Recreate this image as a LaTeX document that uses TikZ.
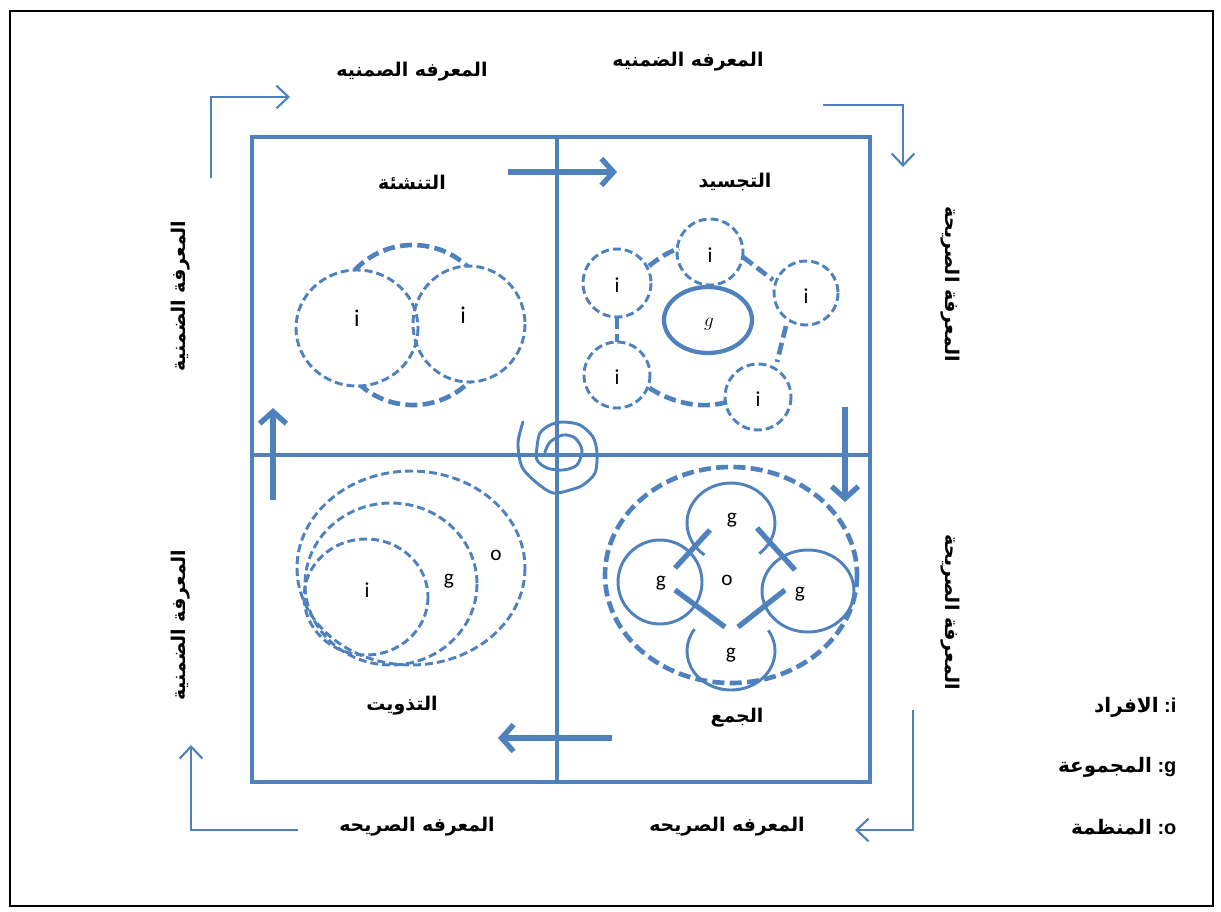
\documentclass[tikz,border=0pt]{standalone}
\usepackage{fontspec}
\setmainfont{Liberation Sans}
\newfontfamily\arabicfont[Script=Arabic]{DejaVu Sans}
\newfontfamily\calfont{Carlito}
\TeXXeTstate=1
\usetikzlibrary{arrows.meta}
\definecolor{bl}{HTML}{4F81BD}
\tikzset{
 sqframe/.style={draw=bl, line width=3pt},
 cornerarrow/.style={draw=bl, line width=1.6pt, -{Straight Barb[length=9pt,width=17pt]}},
 bigarrow/.style={draw=bl, line width=4pt, -{Straight Barb[length=9pt,width=20pt]}},
 smalldash/.style={draw=bl, line width=2.2pt, dash pattern=on 6pt off 3pt},
 bigdash/.style={draw=bl, line width=3.5pt, dash pattern=on 9pt off 4pt},
 solidc/.style={draw=bl, line width=2.2pt},
 thickc/.style={draw=bl, line width=3.2pt},
 crossbar/.style={draw=bl, line width=4pt},
 ar/.style={font=\arabicfont\bfseries\fontsize{14.2}{16}\selectfont, inner sep=1pt},
 lt/.style={font=\calfont\fontsize{16}{18}\selectfont, inner sep=1pt},
 ltb/.style={font=\calfont\fontsize{18}{20}\selectfont, inner sep=1pt},
 leg/.style={font=\bfseries\fontsize{15}{17}\selectfont, inner sep=1pt, anchor=east},
}
\begin{document}
\begin{tikzpicture}[x=0.75pt,y=-0.75pt]
\useasboundingbox (0,0) rectangle (1221,911);
% outer frame
\draw[black, line width=1.8pt] (10,11) rectangle (1213,906);

% main square
\coordinate (sqNW) at (252,137);
\coordinate (sqSE) at (870,782);
\coordinate (vT) at (557,137);
\coordinate (vB) at (557,782);
\coordinate (hL) at (252,455);
\coordinate (hR) at (870,455);
\draw[sqframe] (sqNW) rectangle (sqSE);
\draw[sqframe] (vT) -- (vB);
\draw[sqframe] (hL) -- (hR);

% corner arrows
\coordinate (a1s) at (211,178); \coordinate (a1m) at (211,97); \coordinate (a1e) at (290,97);
\coordinate (a2s) at (823,105); \coordinate (a2m) at (903,105); \coordinate (a2e) at (903,167);
\coordinate (a3s) at (913,710); \coordinate (a3m) at (913,830); \coordinate (a3e) at (855,830);
\coordinate (a4s) at (298,830); \coordinate (a4m) at (191,830); \coordinate (a4e) at (191,745);
\draw[cornerarrow] (a1s) -- (a1m) -- (a1e);
\draw[cornerarrow] (a2s) -- (a2m) -- (a2e);
\draw[cornerarrow] (a3s) -- (a3m) -- (a3e);
\draw[cornerarrow] (a4s) -- (a4m) -- (a4e);

% big arrows
\coordinate (b1s) at (508,172); \coordinate (b1e) at (617,172);
\coordinate (b2s) at (845,407); \coordinate (b2e) at (845,502);
\coordinate (b3s) at (612,738); \coordinate (b3e) at (498,738);
\coordinate (b4s) at (273,500); \coordinate (b4e) at (273,408);
\draw[bigarrow] (b1s) -- (b1e);
\draw[bigarrow] (b2s) -- (b2e);
\draw[bigarrow] (b3s) -- (b3e);
\draw[bigarrow] (b4s) -- (b4e);

% outside labels
\node[ar] (tl) at (412,72) {\beginR المعرفه الصمنيه\endR};
\node[ar] (tr) at (688,62) {\beginR المعرفه الضمنيه\endR};
\node[ar] (bl1) at (417,827) {\beginR المعرفه الصريحه\endR};
\node[ar] (br1) at (727,827) {\beginR المعرفه الصريحه\endR};
\node[ar, rotate=90] (l1) at (181,296) {\beginR المعرفة الضمنية\endR};
\node[ar, rotate=90] (l2) at (181,625) {\beginR المعرفة الضمنية\endR};
\node[ar, rotate=-90] (r1) at (950,284) {\beginR المعرفة الصريحة\endR};
\node[ar, rotate=-90] (r2) at (950,612) {\beginR المعرفة الصريحة\endR};

% quadrant titles
\node[ar] (q1) at (412,182) {\beginR التنشئة\endR};
\node[ar] (q2) at (735,182) {\beginR التجسيد\endR};
\node[ar] (q3) at (402,706) {\beginR التذويت\endR};
\node[ar] (q4) at (737,718) {\beginR الجمع\endR};

% legend
\node[leg] (lg1) at (1178,707) {{\arabicfont\beginR الافراد\endR} :i};
\node[leg] (lg2) at (1178,767) {{\arabicfont\beginR المجموعة\endR} :g};
\node[leg] (lg3) at (1178,827) {{\arabicfont\beginR المنظمة\endR} :o};

% Q1 socialization
\draw[bigdash] (413,325) circle [radius=80];
\fill[white] (357,328) ellipse [x radius=61, y radius=58];
\fill[white] (469,324) ellipse [x radius=56, y radius=58];
\draw[smalldash] (357,328) ellipse [x radius=61, y radius=58];
\draw[smalldash] (469,324) ellipse [x radius=56, y radius=58];
\node[ltb] (q1i1) at (357,318) {i};
\node[ltb] (q1i2) at (463,315) {i};

% Q2 externalization
\draw[smalldash] (710,252) circle [radius=33];
\draw[smalldash] (617,283) circle [radius=34];
\draw[smalldash] (806,293) circle [radius=32];
\draw[smalldash] (617,375) circle [radius=33];
\draw[smalldash] (758,397) circle [radius=33];
\draw[thickc] (708,320) ellipse [x radius=44, y radius=33];
\draw[bigdash] (649,266) to[bend left=8] (679,248);
\draw[bigdash] (743,257) -- (773,280);
\draw[bigdash] (786,326) -- (777,362);
\draw[bigdash] (727,402) .. controls (700,410) and (670,402) .. (648,387);
\draw[bigdash] (617,317) -- (617,342);
\node[lt] (q2i1) at (710,255) {i};
\node[lt] (q2i2) at (617,285) {i};
\node[lt] (q2i3) at (806,296) {i};
\node[lt] (q2i4) at (617,377) {i};
\node[lt] (q2i5) at (758,399) {i};
\node[font=\fontsize{15}{17}\selectfont, inner sep=1pt] (q2g) at (709,324) {$g$};

% Q3 internalization
\draw[smalldash] (411,568) ellipse [x radius=114, y radius=97];
\draw[smalldash] (391,584) ellipse [x radius=86, y radius=81];
\draw[smalldash] (366,597) ellipse [x radius=62, y radius=58];
\node[lt] (q3i) at (367,590) {i};
\node[lt] (q3g) at (449,581) {g};
\node[lt] (q3o) at (496,555) {o};

% Q4 combination
\draw[bigdash] (731,575) ellipse [x radius=126, y radius=108];
\draw[solidc] (731,523) ++(127:44 and 40) arc[start angle=127, end angle=410, x radius=44, y radius=40];
\draw[solidc] (731,651) ++(-32:44 and 39) arc[start angle=-32, end angle=214, x radius=44, y radius=39];
\draw[solidc] (660,582) circle [radius=42];
\draw[solidc] (808,591) ellipse [x radius=46, y radius=41];
\draw[crossbar] (675,568) -- (710,530);
\draw[crossbar] (757,528) -- (795,570);
\draw[crossbar] (675,590) -- (725,627);
\draw[crossbar] (738,627) -- (785,590);
\node[lt] (q4g1) at (732,520) {g};
\node[lt] (q4g2) at (661,583) {g};
\node[lt] (q4g3) at (800,594) {g};
\node[lt] (q4g4) at (731,655) {g};
\node[lt] (q4o) at (727,580) {o};

% central spiral
\draw[draw=bl, line width=2.2pt, line cap=round] plot[smooth] coordinates {
 (523,422) (518,443) (522,467) (537,483) (553,493) (570,490) (583,485) (595,473) (597,453) (593,437) (580,425) (563,422) (550,425) (540,433) (537,447) (537,460) (547,468) (563,470) (577,465) (582,450) (575,438) (563,435) (550,442) (545,452)};
\end{tikzpicture}
\end{document}
